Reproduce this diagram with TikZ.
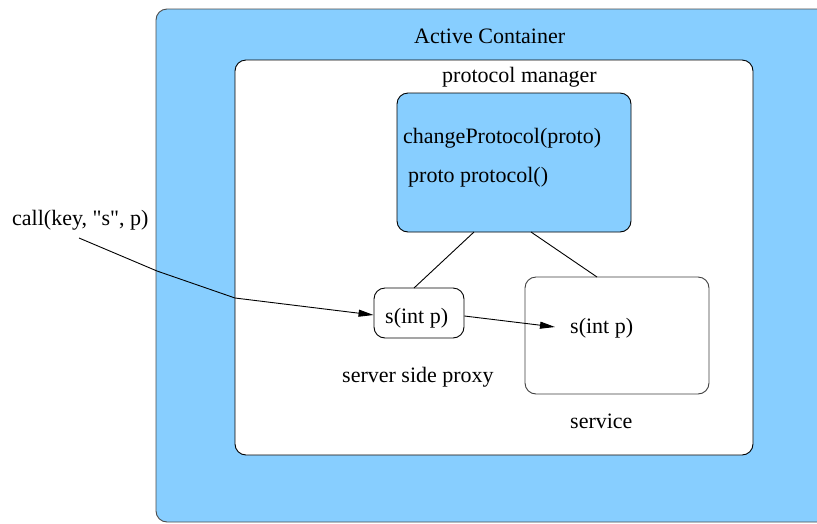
\documentclass[tikz,border=0pt]{standalone}
\usepackage{fontspec}
\setmainfont{Liberation Serif}
\newfontfamily\tms{Liberation Serif}
\usetikzlibrary{arrows.meta}
\definecolor{skyb}{HTML}{87CEFF}
\tikzset{
  lbl/.style={anchor=base west, inner sep=0pt, font=\tms\fontsize{22}{26}\selectfont},
  rbox/.style={draw=black, line width=0.9pt, rounded corners=11pt, inner sep=0pt},
  conn/.style={line width=0.9pt},
  arr/.style={conn, -{Triangle[length=15pt,width=7pt]}},
}
\begin{document}
\begin{tikzpicture}[x=1pt,y=-1pt]
\useasboundingbox (0,0) rectangle (817,523);
\clip (0,0) rectangle (817,523);
% outer active container
\draw[fill=skyb, draw=black!70, line width=0.9pt, rounded corners=11pt] (156,9) rectangle (840,522);
\node[lbl] (actc) at (414,43) {Active Container};
% inner white box
\node[rbox, fill=white, minimum width=518pt, minimum height=395pt] (inner) at (494,257.5) {};
\node[lbl] (pmlbl) at (442,82) {protocol manager};
% protocol manager blue box
\node[rbox, fill=skyb, minimum width=234pt, minimum height=139pt] (pm) at (514,162.5) {};
\node[lbl] (m1) at (403,143) {changeProtocol(proto)};
\node[lbl] (m2) at (408,182) {proto protocol()};
% proxy
\node[rbox, fill=white, minimum width=90pt, minimum height=50pt] (proxy) at (419,313) {};
\node[lbl] (pxtxt) at (385,323) {s(int p)};
\node[lbl] (proxylbl) at (342,382) {server side proxy};
% service
\node[rbox, draw=black!75, fill=white, minimum width=184pt, minimum height=117pt] (svc) at (617,335.5) {};
\node[lbl] (svctxt) at (570,333) {s(int p)};
\node[lbl] (svclbl) at (570,428) {service};
% call label
\node[lbl] (call) at (12,225) {call(key, \symbol{34}s\symbol{34}, p)};
% coordinates
\coordinate (cstart) at (79,238);
\coordinate (cb1) at (157,271);
\coordinate (cb2) at (235,298);
\coordinate (pma) at (474,232);
\coordinate (pmb) at (531,232);
\coordinate (pxa) at (414,288);
\coordinate (sva) at (597,277);
\coordinate (svin) at (555,327);
% connectors
\draw[conn] (pma) -- (pxa);
\draw[conn] (pmb) -- (sva);
\draw[arr] (cstart) -- (cb1) -- (cb2) -- ([yshift=-2pt]proxy.west);
\draw[arr] ([yshift=-3pt]proxy.east) -- (svin);
\end{tikzpicture}
\end{document}
